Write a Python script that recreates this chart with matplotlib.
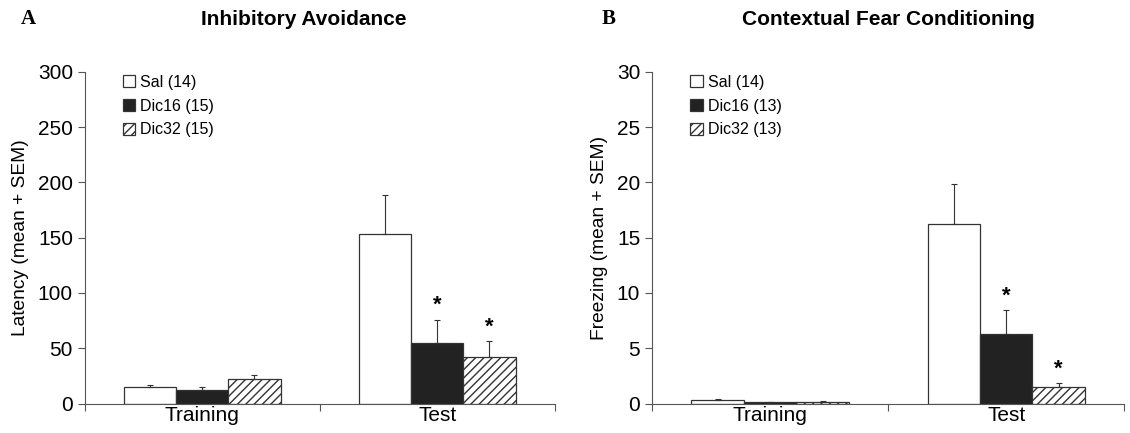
import numpy as np
import matplotlib
matplotlib.use("Agg")
import matplotlib.pyplot as plt

plt.rcParams['font.family'] = ['Liberation Sans', 'DejaVu Sans']
plt.rcParams['hatch.linewidth'] = 1.0

# data
phases = ['Training', 'Test']
groups_a = ['Sal (14)', 'Dic16 (15)', 'Dic32 (15)']
groups_b = ['Sal (14)', 'Dic16 (13)', 'Dic32 (13)']

latency_mean = [[15, 153], [12, 55], [22, 42]]
latency_sem = [[2, 36], [3, 21], [4, 15]]
latency_sig = [[False, False], [False, True], [False, True]]

freezing_mean = [[0.3, 16.2], [0.1, 6.3], [0.15, 1.5]]
freezing_sem = [[0.1, 3.7], [0.05, 2.2], [0.05, 0.4]]
freezing_sig = [[False, False], [False, True], [False, True]]

colors = ['white', '#222222', 'white']
hatches = [None, None, '////']

fig = plt.figure(figsize=(11.3, 4.33), dpi=100)
ax_a = fig.add_axes([0.075, 0.068, 0.416, 0.766])
ax_b = fig.add_axes([0.577, 0.068, 0.418, 0.766])

def draw(ax, means, sems, sigs, labels, ylim, step, ylabel, star_off):
    x = np.arange(len(phases))
    w = 0.222
    for i in range(3):
        xs = x + (i - 1) * w
        ax.bar(xs, means[i], w, color=colors[i], edgecolor='#333333',
               hatch=hatches[i], linewidth=0.9, label=labels[i], zorder=2)
        ax.errorbar(xs, means[i], yerr=[np.zeros(2), sems[i]], fmt='none',
                    ecolor='#333333', elinewidth=0.8, capsize=2, capthick=0.8, zorder=3)
        for j in range(2):
            if sigs[i][j]:
                ax.text(xs[j], means[i][j] + sems[i][j] + star_off, '*',
                        ha='center', va='bottom', fontsize=16, fontweight='bold')
    ax.set_xlim(-0.5, 1.5)
    ax.set_ylim(*ylim)
    ax.set_yticks(np.arange(ylim[0], ylim[1] + 0.01, step))
    ax.set_xticks([-0.5, 0.5, 1.5])
    ax.set_xticklabels([])
    ax.set_xticks(x, minor=True)
    ax.set_xticklabels(phases, minor=True, fontsize=15)
    ax.tick_params(axis='x', which='minor', length=0, pad=2)
    ax.tick_params(axis='x', which='major', length=5, color='#555555')
    ax.tick_params(axis='y', labelsize=15, length=5, color='#555555')
    ax.spines['top'].set_visible(False)
    ax.spines['right'].set_visible(False)
    for s in ['left', 'bottom']:
        ax.spines[s].set_color('#555555')
    ax.set_ylabel(ylabel, fontsize=13.8, labelpad=6)
    ax.legend(loc='upper left', bbox_to_anchor=(0.06, 1.02), frameon=False,
              fontsize=11.5, handlelength=0.8, handleheight=0.8,
              handletextpad=0.3, labelspacing=0.55, borderaxespad=0.2)

draw(ax_a, latency_mean, latency_sem, latency_sig, groups_a, (0, 300), 50,
     'Latency (mean + SEM)', 3)
draw(ax_b, freezing_mean, freezing_sem, freezing_sig, groups_b, (0, 30), 5,
     'Freezing (mean + SEM)', 0.3)

fig.text(0.018, 0.955, 'A', family='Liberation Serif', fontweight='bold',
         fontsize=15, va='center')
fig.text(0.269, 0.955, 'Inhibitory Avoidance', fontweight='bold',
         fontsize=15, ha='center', va='center')
fig.text(0.532, 0.955, 'B', family='Liberation Serif', fontweight='bold',
         fontsize=15, va='center')
fig.text(0.786, 0.955, 'Contextual Fear Conditioning', fontweight='bold',
         fontsize=15, ha='center', va='center')

fig.savefig('out.png', dpi=100)
